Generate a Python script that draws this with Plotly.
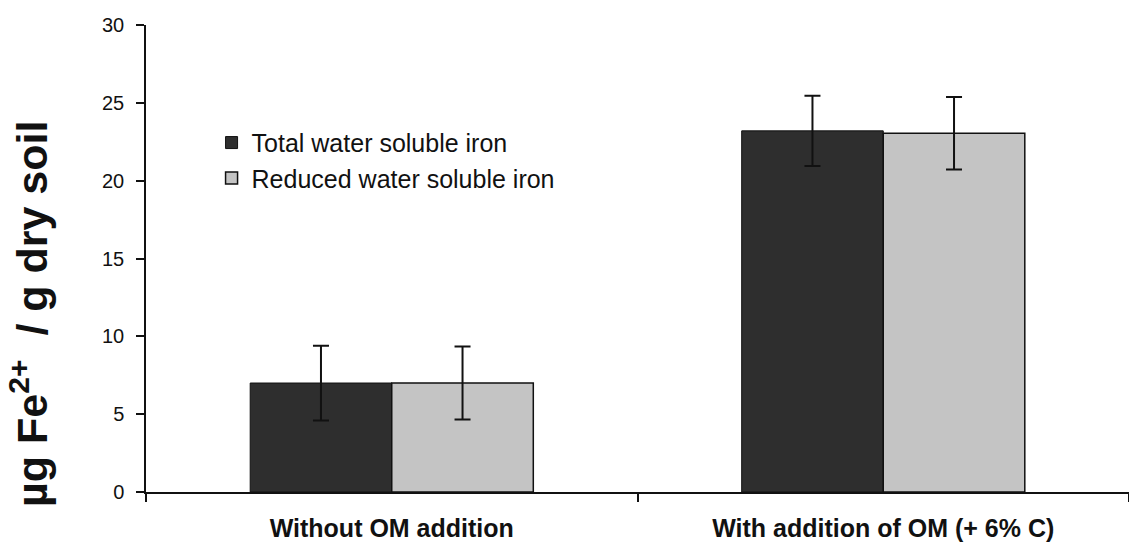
import plotly.graph_objects as go

# Water soluble Fe2+ in soil with and without organic matter addition
categories = ["Without OM addition", "With addition of OM (+ 6% C)"]
total_iron = [7.0, 23.2]
total_iron_err = [2.4, 2.25]
reduced_iron = [7.0, 23.05]
reduced_iron_err = [2.35, 2.33]
series_names = ["Total water soluble iron", "Reduced water soluble iron"]
y_ticks = [0, 5, 10, 15, 20, 25, 30]

FONT = "Liberation Sans, Arial, sans-serif"
INK = "#111111"

fig = go.Figure()
fig.add_trace(go.Bar(
    x=categories, y=total_iron, name=series_names[0], legendgroup="a",
    marker=dict(color="#2e2e2e", line=dict(color=INK, width=1)),
    error_y=dict(type="data", array=total_iron_err, color=INK,
                 thickness=2, width=8),
))
fig.add_trace(go.Bar(
    x=categories, y=reduced_iron, name=series_names[1], legendgroup="b",
    marker=dict(color="#c4c4c4", line=dict(color=INK, width=1.5)),
    error_y=dict(type="data", array=reduced_iron_err, color=INK,
                 thickness=2, width=8),
))

fig.update_layout(
    width=1129, height=549,
    margin=dict(l=146, r=0, t=25, b=57),
    paper_bgcolor="white", plot_bgcolor="white",
    barmode="group", bargap=0.424, bargroupgap=0,
    font=dict(family=FONT, color=INK),
    showlegend=True,
    legend=dict(x=0.0667, y=0.797, xanchor="left", yanchor="top",
                font=dict(size=25, family=FONT), bgcolor="rgba(0,0,0,0)",
                tracegroupgap=12, traceorder="normal"),
    xaxis=dict(
        showline=True, linecolor=INK, linewidth=1.5,
        ticks="outside", tickson="boundaries", ticklen=8, tickcolor=INK,
        tickwidth=1.5, ticklabelstandoff=13,
        tickfont=dict(size=25, family=FONT),
        tickvals=categories,
        ticktext=["<b>" + c + "</b>" for c in categories],
    ),
    yaxis=dict(
        range=[0, 30], tickvals=y_ticks,
        showline=True, linecolor=INK, linewidth=1.5,
        ticks="outside", ticklen=8, tickcolor=INK, tickwidth=1.5,
        ticklabelstandoff=8,
        tickfont=dict(size=20, family=FONT), showgrid=False, zeroline=False,
    ),
    annotations=[dict(
        text="<b>µg Fe<sup>2+</sup>  / g dry soil</b>",
        textangle=-90, xref="paper", yref="paper",
        x=(29 - 146) / 983, y=(492 - 314) / 467,
        xanchor="center", yanchor="middle", showarrow=False,
        font=dict(size=43, family=FONT, color=INK),
    )],
)

fig.write_html("out.html")
